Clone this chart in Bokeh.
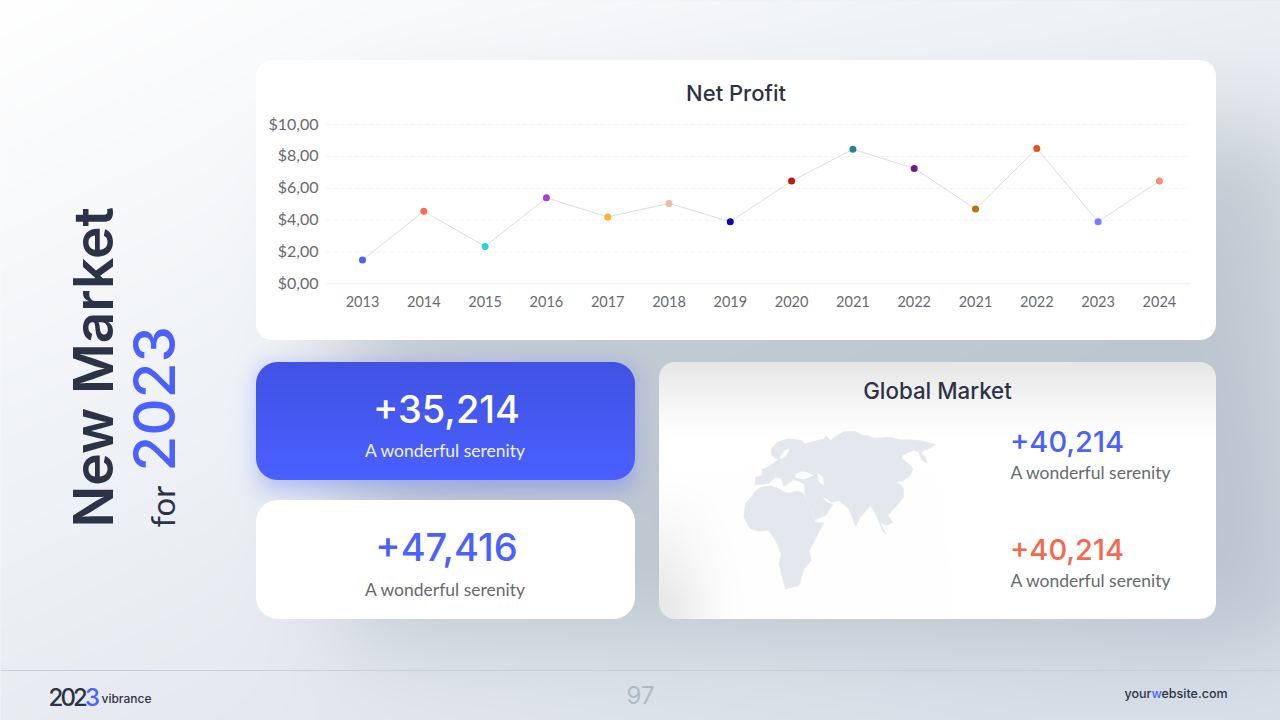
import math
import numpy as np
from bokeh.plotting import figure
from bokeh.models import Range1d, LinearAxis, FixedTicker
from bokeh.core.properties import value
from bokeh.embed import file_html
from bokeh.resources import INLINE

# ---------- chart data ----------
categories = ["2013", "2014", "2015", "2016", "2017", "2018", "2019", "2020",
              "2021", "2022", "2021", "2022", "2023", "2024"]
net_profit = [1.5, 4.55, 2.35, 5.4, 4.2, 5.05, 3.9, 6.45, 8.45, 7.25, 4.7, 8.5, 3.9, 6.45]
point_colors = ["#4a60ff", "#ff6b4a", "#2ed2d2", "#a83fd6", "#ffb03b", "#f7b7a3", "#0a0ab0",
                "#c21807", "#1f8a84", "#6a1b8a", "#b8760f", "#e2551a", "#6f7fff", "#ff8a7a"]
y_ticks = [0, 2, 4, 6, 8, 10]
y_labels = ["$0,00", "$2,00", "$4,00", "$6,00", "$8,00", "$10,00"]

# ---------- layout ----------
W, H = 1280, 720
X0, DX = 362.0, 61.3        # pixel of first category, pixels per category
Y0, DY = 283.3, 15.92       # pixel of value 0, pixels per unit
YLAB_SHIFT = 1.5            # y tick labels sit this many px above their grid lines
TEXT_DARK = "#2d3347"
BLUE = "#4a60ff"
CORAL = "#f4694c"
GREY = "#666a70"
FONT_H = "Inter Medium"
FONT_B = "Lato"
FONT_T = "Lato"

xr = Range1d((0 - X0) / DX, (W - X0) / DX)
yr = Range1d((Y0 - H) / DY, Y0 / DY)
p = figure(width=W, height=H, x_range=xr, y_range=yr, x_axis_type=None, y_axis_type=None,
           toolbar_location=None, output_backend="svg", min_border=0, outline_line_color=None,
           background_fill_color=None, border_fill_color=None)
p.styles = {"position": "fixed", "left": "0px", "top": "0px",
            "background": "linear-gradient(120deg,#ffffff,#d9e0e9)"}
p.grid.visible = False
p.extra_x_ranges["px"] = Range1d(0, W)
p.extra_y_ranges["px"] = Range1d(H, 0)
p.extra_y_ranges["pxu"] = Range1d(0, H)
p.extra_y_ranges["ylab"] = Range1d((Y0 - YLAB_SHIFT - H) / DY, (Y0 - YLAB_SHIFT) / DY)


# ---------- background raster (gradient, soft shadows, cards) ----------
PAD = 2
xs = np.arange(-PAD, W + PAD) + 0.5
ys = np.arange(-PAD, H + PAD) + 0.5
XX, YY = np.meshgrid(xs, ys)
verf = np.vectorize(math.erf)


def hexc(h):
    return np.array([int(h[i:i + 2], 16) for i in (1, 3, 5)], float)


def blur_rect(l, t, r, b, s):
    fx = 0.5 * (verf((xs - l) / (s * 2**.5)) - verf((xs - r) / (s * 2**.5)))
    fy = 0.5 * (verf((ys - t) / (s * 2**.5)) - verf((ys - b) / (s * 2**.5)))
    return np.outer(fy, fx)


def rr_mask(l, t, r, b, rad):
    cx, cy = (l + r) / 2, (t + b) / 2
    qx = np.abs(XX - cx) - ((r - l) / 2 - rad)
    qy = np.abs(YY - cy) - ((b - t) / 2 - rad)
    d = np.hypot(np.maximum(qx, 0), np.maximum(qy, 0)) + np.minimum(np.maximum(qx, qy), 0) - rad
    return np.clip(0.5 - d, 0, 1)


def over(img, color, alpha):
    a = alpha[..., None]
    return img * (1 - a) + color * a


t = np.clip((XX / W * 0.5 + YY / H * 0.6), 0, 1)[..., None]
img = hexc("#ffffff") * (1 - t) + hexc("#d9e0e9") * t
img = over(img, hexc("#8a98a6"), 0.42 * blur_rect(345, 130, 1300, 640, 50))
img = over(img, hexc("#4a60ff"), 0.38 * blur_rect(260, 368, 632, 488, 12))

# chart card
img = over(img, hexc("#ffffff"), rr_mask(256, 60, 1216, 340, 16))
# blue card
m = rr_mask(256, 362, 635, 480, 22)
tb = np.clip((YY - 362) / 118, 0, 1)[..., None]
img = img * (1 - m[..., None]) + (hexc("#4153e4") * (1 - tb) + hexc("#4a60ff") * tb) * m[..., None]
# white card
img = over(img, hexc("#ffffff"), rr_mask(256, 500, 635, 619, 22))
# global market card: white with grey top and bottom-left shading
g = np.ones(img.shape) * 255.0
g = over(g, hexc("#e6e6e6"), np.clip(1 - (YY - 362) / 75, 0, 1) ** 1.2)
corner = np.exp(-(((XX - 655) / 50) ** 2)) * np.clip((YY - 470) / 130, 0, 1) ** 1.3
g = over(g, hexc("#e8e8e8"), np.clip(corner, 0, 1))
m = rr_mask(659, 362, 1216, 619, 16)[..., None]
img = img * (1 - m) + g * m

IH, IW = img.shape[:2]
rgba = np.dstack([np.clip(img, 0, 255), np.full((IH, IW), 255.0)]).astype(np.uint8)
rgba = rgba[::-1]
view = rgba.view(dtype=np.uint32).reshape(IH, IW)
# the page draws rasters half a pixel right and down of their nominal place
p.image_rgba(image=[view], x=-PAD - 0.5, y=-PAD + 0.5, dw=IW, dh=IH, x_range_name="px", y_range_name="pxu",
             level="image")

# ---------- world map silhouette ----------
MAP_OX, MAP_OY, MAP_S = 660, 360, 1 / 3
eurasia = [(283, 372), (285, 350), (305, 345), (305, 327), (325, 318), (345, 303), (352, 296), (342, 292),
           (333, 283), (332, 265), (350, 245), (370, 238), (385, 235), (425, 240), (430, 250), (455, 244),
           (490, 235), (497, 226), (510, 240), (520, 232), (535, 222), (550, 213), (585, 213), (605, 224),
           (620, 225), (640, 233), (665, 232), (690, 230), (720, 238), (750, 238), (780, 240), (825, 252),
           (810, 262), (790, 270), (782, 278), (795, 290), (800, 308), (785, 300), (775, 275), (760, 270),
           (745, 275), (725, 285), (725, 295), (745, 310), (757, 325), (750, 345), (735, 355), (725, 362),
           (705, 365), (720, 372), (730, 385), (728, 410), (715, 430), (700, 445), (682, 465), (697, 485),
           (680, 495), (665, 490), (660, 485), (668, 505), (680, 525), (665, 510), (650, 470), (630, 435),
           (600, 470), (585, 497), (565, 445), (535, 420), (515, 425), (480, 405), (500, 425), (517, 432),
           (495, 465), (465, 478), (440, 420), (432, 392), (432, 372), (415, 362), (398, 358), (385, 368),
           (370, 378), (362, 354), (345, 350), (325, 368), (305, 372)]
africa = [(250, 470), (255, 430), (285, 392), (300, 380), (330, 376), (350, 382), (380, 398), (410, 392),
          (430, 398), (450, 445), (465, 485), (490, 487), (475, 515), (465, 535), (447, 570), (452, 600),
          (430, 625), (425, 645), (415, 675), (375, 686), (355, 610), (362, 580), (345, 540), (325, 510),
          (295, 512), (270, 505)]
black_sea = [(405, 340), (425, 332), (440, 335), (460, 345), (430, 357), (405, 352)]
caspian = [(470, 335), (488, 350), (490, 375), (475, 365)]
baltic = [(372, 268), (388, 265), (378, 285), (362, 296), (358, 290)]


def map_x(pts):
    return [MAP_OX + a * MAP_S for a, _ in pts]


def map_y(pts):
    return [MAP_OY + b * MAP_S for _, b in pts]


p.patches([map_x(eurasia), map_x(africa)], [map_y(eurasia), map_y(africa)], fill_color="#e2e8ee",
          line_color="#e2e8ee", line_width=0.5, x_range_name="px", y_range_name="px")
p.patches([map_x(black_sea), map_x(caspian), map_x(baltic)], [map_y(black_sea), map_y(caspian), map_y(baltic)],
          fill_color="#fbfbfb", line_color=None, x_range_name="px", y_range_name="px")

# ---------- chart ----------
p.segment(x0=[326] * 5, x1=[1188] * 5, y0=y_ticks[1:], y1=y_ticks[1:], x_range_name="px",
          line_color="#f0f1f3", line_width=1, line_dash="5 2")
p.segment(x0=[326], x1=[1190], y0=y_ticks[:1], y1=y_ticks[:1], x_range_name="px",
          line_color="#eef0f2", line_width=1)
idx = list(range(len(categories)))
p.line(idx, net_profit, line_color="#dcdcdc", line_width=1)
p.scatter(idx, net_profit, size=7, fill_color=point_colors, line_color=None)

xaxis = LinearAxis(ticker=FixedTicker(ticks=idx), fixed_location=0,
                   major_label_overrides={i: c for i, c in enumerate(categories)})
yaxis = LinearAxis(ticker=FixedTicker(ticks=y_ticks), fixed_location=(326 - X0) / DX, y_range_name="ylab",
                   major_label_overrides={v: s for v, s in zip(y_ticks, y_labels)})
for ax in (xaxis, yaxis):
    ax.axis_line_color = None
    ax.major_tick_line_color = None
    ax.minor_tick_line_color = None
    ax.major_tick_in = 0
    ax.major_tick_out = 0
    ax.major_label_text_font = FONT_T
    ax.major_label_text_color = GREY
xaxis.major_label_text_font_size = "14.5px"
yaxis.major_label_text_font_size = "16px"
xaxis.major_label_standoff = 12
yaxis.major_label_standoff = 8
p.add_layout(xaxis, "below")
p.add_layout(yaxis, "left")


# ---------- texts ----------
def txt(x, y, s, size, color, font=FONT_H, align="center", angle=0.0, base="middle", style="normal"):
    p.text([x], [y], text=[s], text_font=value(font), text_font_size=f"{size}px", text_color=color,
           text_align=align, text_baseline=base, angle=angle, text_font_style=style,
           x_range_name="px", y_range_name="px")


txt(735.5, 92, "Net Profit", 22, TEXT_DARK)
txt(937, 389.5, "Global Market", 22.3, TEXT_DARK)
txt(446, 408.5, "+35,214", 38, "#ffffff")
txt(445, 450, "A wonderful serenity", 17.5, "#f2f3ff", FONT_B)
txt(446, 546.5, "+47,416", 38, BLUE)
txt(445, 589, "A wonderful serenity", 17.5, GREY, FONT_B)
txt(1009.5, 441, "+40,214", 29, BLUE, align="left")
txt(1010, 472, "A wonderful serenity", 17.5, GREY, FONT_B, align="left")
txt(1009.5, 549, "+40,214", 29, CORAL, align="left")
txt(1010, 580, "A wonderful serenity", 17.5, GREY, FONT_B, align="left")

txt(92, 527, "New Market", 55, TEXT_DARK, font="Inter SemiBold", align="left", angle=math.pi / 2)
txt(161, 527, "for", 33, TEXT_DARK, FONT_B, align="left", angle=math.pi / 2)
txt(153, 471, "2023", 58, BLUE, align="left", angle=math.pi / 2)

# ---------- footer ----------
p.segment(x0=[0], x1=[W], y0=[670], y1=[670], x_range_name="px", y_range_name="px",
          line_color="#c9cfd8", line_width=1)
logo_digits = ["2", "0", "2", "3"]
logo_colors = [TEXT_DARK, TEXT_DARK, TEXT_DARK, BLUE]
for k, (d, c) in enumerate(zip(logo_digits, logo_colors)):
    txt(55.5 + 12.2 * k, 696, d, 24, c, align="center")
txt(101, 698, "vibrance", 12, TEXT_DARK, align="left")
txt(640, 694, "97", 24, "#b2bac3", font="Inter")
txt(1124, 693, "your", 12.5, TEXT_DARK, align="left")
txt(1151, 693, "w", 12.5, BLUE, align="left")
txt(1161, 693, "ebsite.com", 12.5, TEXT_DARK, align="left")

open("out.html", "w").write(file_html(p, INLINE))
